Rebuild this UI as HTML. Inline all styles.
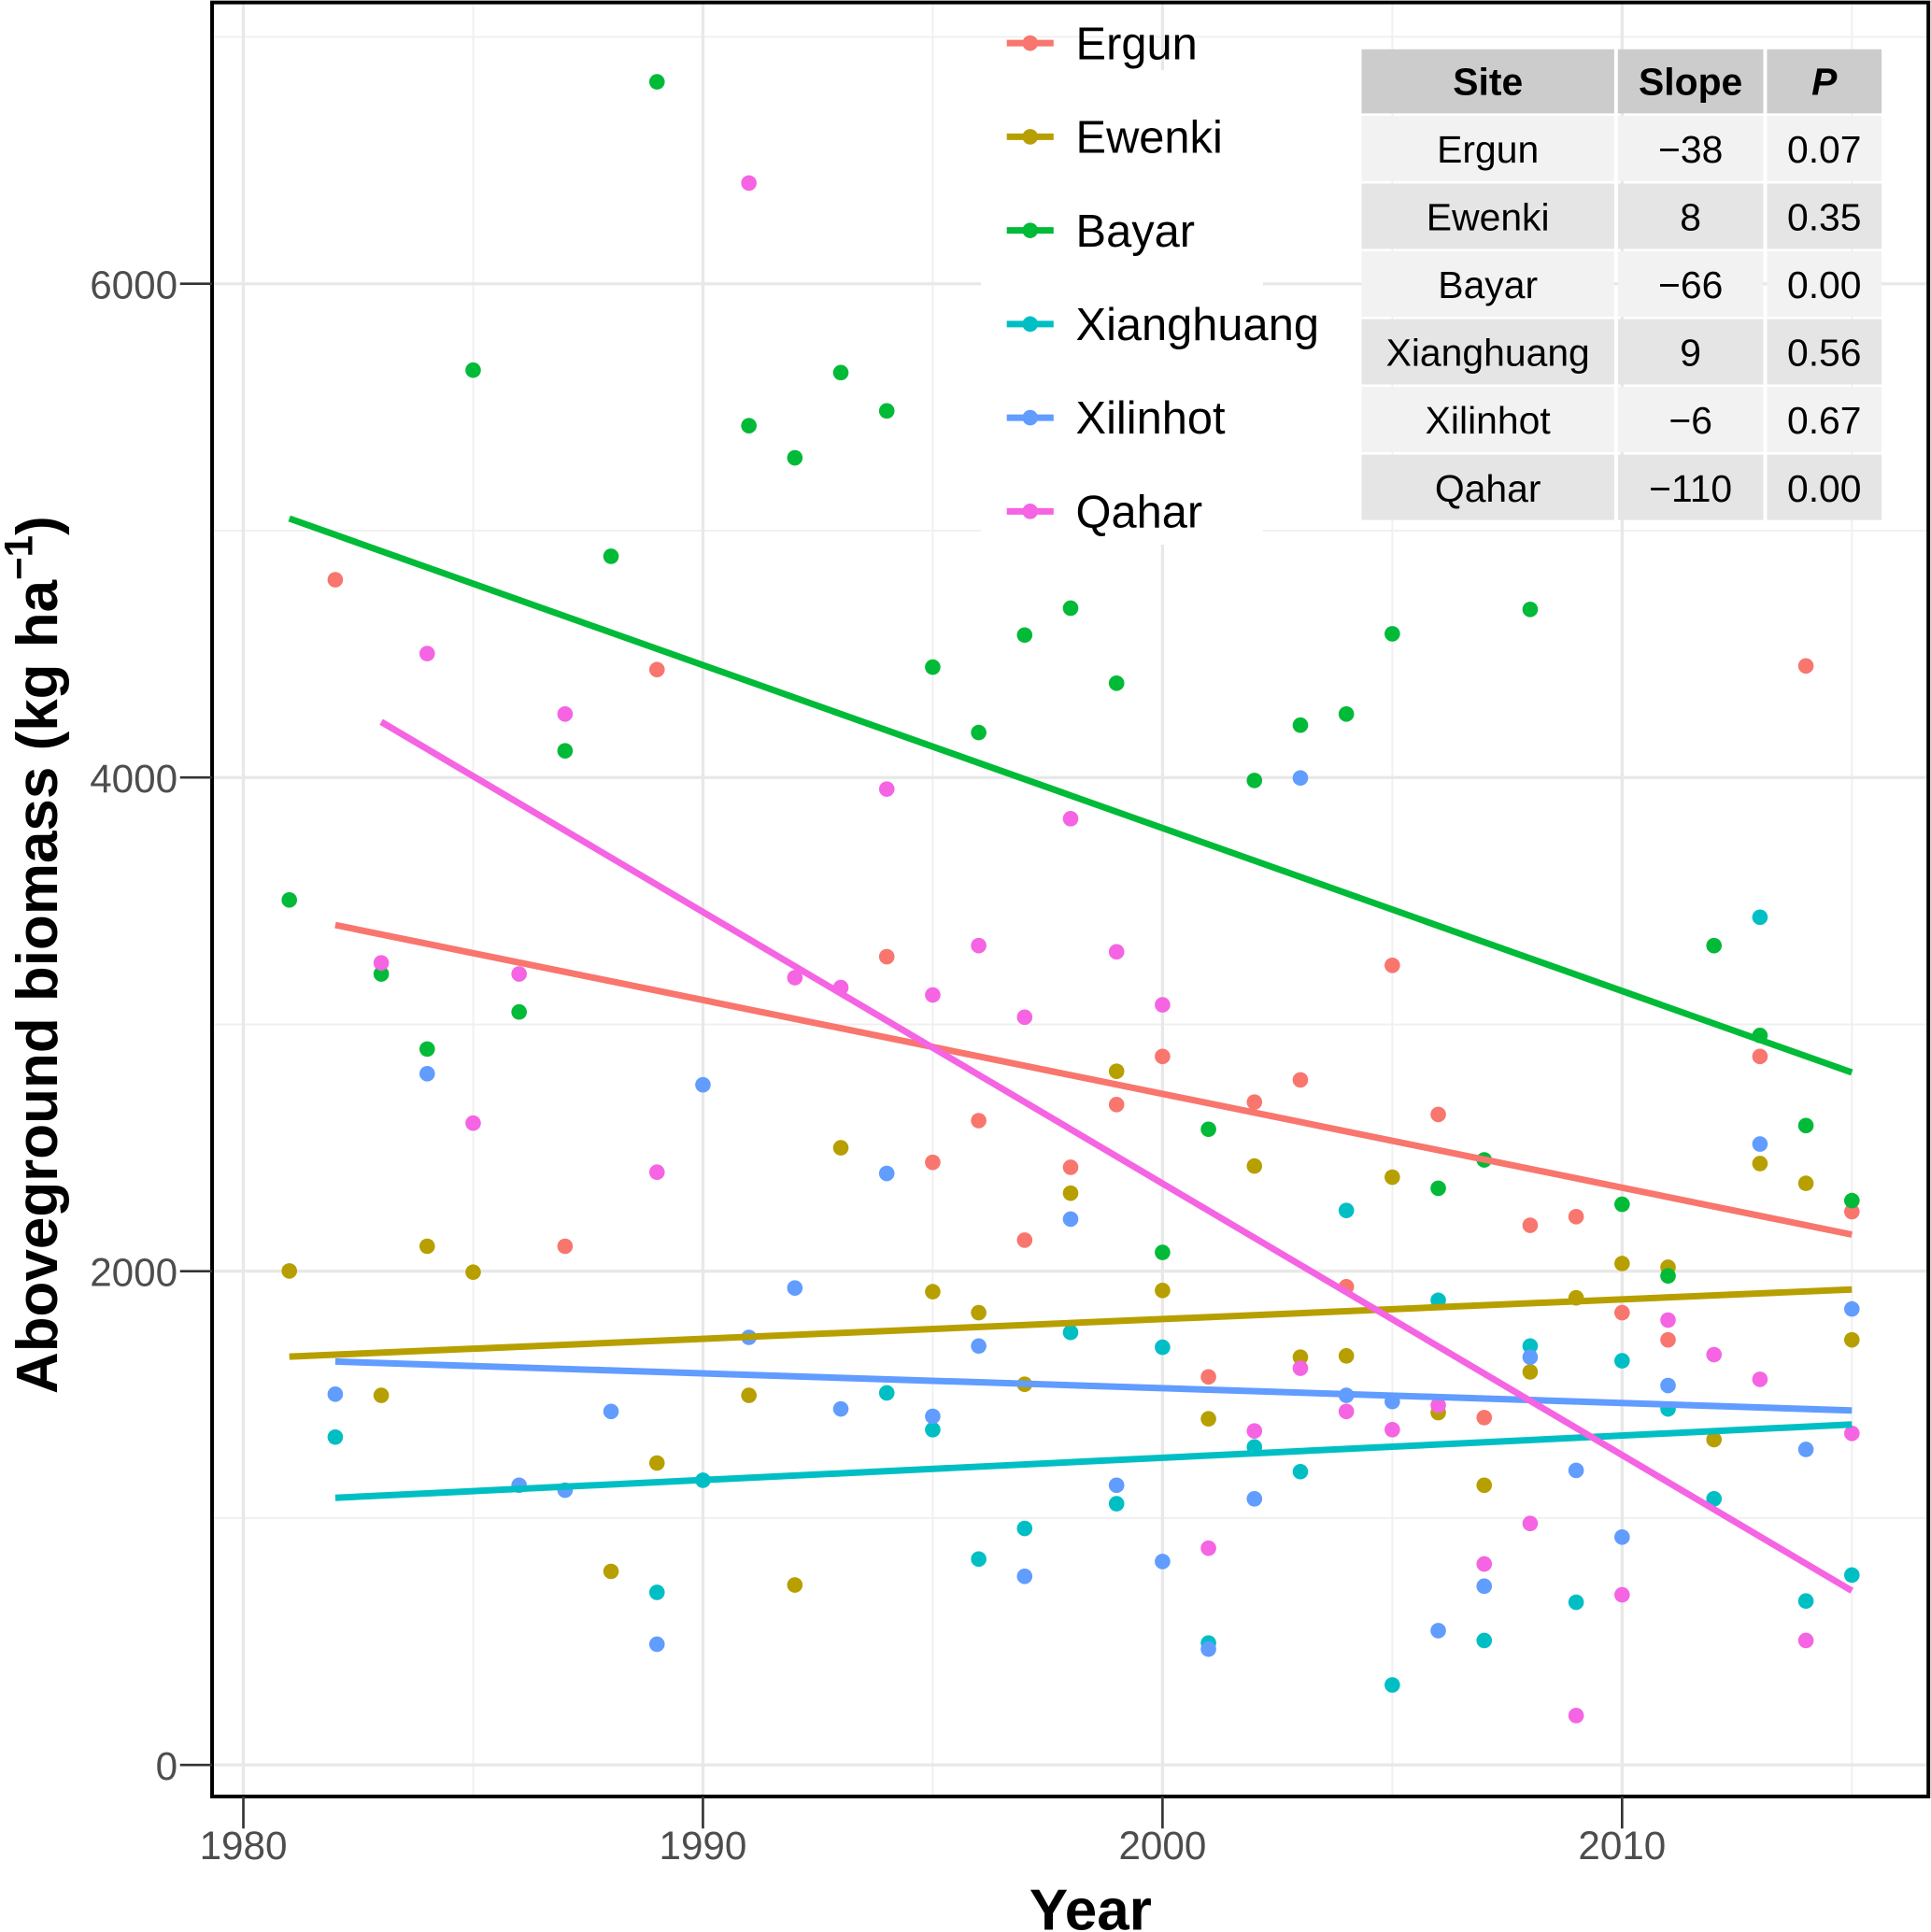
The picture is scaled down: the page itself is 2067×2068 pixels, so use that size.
<!DOCTYPE html>
<html><head><meta charset="utf-8"><style>
html,body{margin:0;padding:0;background:#fff;}
svg{display:block;font-family:"Liberation Sans",Arial,sans-serif;}
</style></head><body>
<svg id="chart" width="2067" height="2068" viewBox="0 0 1567 1568" xmlns="http://www.w3.org/2000/svg">
<rect x="0" y="0" width="1567" height="1568" fill="#fff"/>
<g id="grid"></g>
<g id="points"></g>
<g id="trends"></g>
<g id="legend"></g>
<g id="table"></g>
<g id="axes"></g>
</svg>
<script>
const sites = ["Ergun","Ewenki","Bayar","Xianghuang","Xilinhot","Qahar"];
const colors = ["#F8766D","#B79F00","#00BA38","#00BFC4","#619CFF","#F564E3"];
const slopeValues = [-38,8,-66,9,-6,-110];
const slopes = ["\u221238","8","\u221266","9","\u22126","\u2212110"];
const pvals = ["0.07","0.35","0.00","0.56","0.67","0.00"];
const xTicks = [1980,1990,2000,2010];
const yTicks = [0,2000,4000,6000];

const ergunYears = [1982,1987,1989,1994,1995,1996,1997,1998,1999,2000,2001,2002,2003,2004,2005,2006,2007,2008,2009,2010,2011,2013,2014,2015];
const ergunVals  = [4801,2101,4437,3274,2441,2610,2126,2421,2675,2870,1572,2685,2775,1937,3239,2635,1407,2186,2221,1832,1722,2870,4452,2241];
const ewenkiYears = [1981,1983,1984,1985,1988,1989,1991,1992,1993,1995,1996,1997,1998,1999,2000,2001,2002,2003,2004,2005,2006,2007,2008,2009,2010,2011,2012,2013,2014,2015];
const ewenkiVals  = [2001,1497,2101,1996,784,1223,1497,729,2500,1917,1832,1542,2316,2810,1922,1402,2426,1652,1657,2381,1427,1133,1592,1892,2031,2016,1318,2436,2356,1722];
const bayarYears = [1981,1983,1984,1985,1986,1987,1988,1989,1991,1992,1993,1994,1995,1996,1997,1998,1999,2000,2001,2002,2003,2004,2005,2006,2007,2008,2010,2011,2012,2013,2014,2015];
const bayarVals  = [3504,3204,2900,5650,3050,4108,4896,6818,5425,5295,5640,5485,4447,4182,4577,4686,4382,2076,2575,3988,4212,4257,4582,2336,2451,4681,2271,1981,3319,2955,2590,2286];
const xiangYears = [1982,1989,1990,1994,1995,1996,1997,1998,1999,2000,2001,2002,2003,2004,2005,2006,2007,2008,2009,2010,2011,2012,2013,2014,2015];
const xiangVals  = [1328,699,1153,1507,1358,834,958,1752,1058,1692,494,1288,1188,2246,324,1882,504,1697,659,1637,1442,1078,3434,664,769];
const xilinYears = [1982,1984,1986,1987,1988,1989,1990,1991,1992,1993,1994,1995,1996,1997,1998,1999,2000,2001,2002,2003,2004,2005,2006,2007,2008,2009,2010,2011,2013,2014,2015];
const xilinVals  = [1502,2800,1133,1113,1432,489,2755,1732,1932,1442,2396,1412,1697,764,2211,1133,824,469,1078,3998,1497,1472,544,724,1652,1193,923,1537,2515,1278,1847];
const qaharYears = [1983,1984,1985,1986,1987,1989,1991,1992,1993,1994,1995,1996,1997,1998,1999,2000,2001,2002,2003,2004,2005,2006,2007,2008,2009,2010,2011,2012,2013,2014,2015];
const qaharVals  = [3249,4502,2600,3204,4257,2401,6408,3189,3149,3953,3119,3319,3029,3833,3294,3079,878,1353,1607,1432,1358,1457,814,978,200,689,1802,1662,1562,504,1343];

const seriesYears = [ergunYears,ewenkiYears,bayarYears,xiangYears,xilinYears,qaharYears];
const seriesVals = [ergunVals,ewenkiVals,bayarVals,xiangVals,xilinVals,qaharVals];

const NS="http://www.w3.org/2000/svg";
const L=172,R=1565,T=2,B=1458;
function xs(y){return 197.4+(y-1980)*37.3;}
function ys(v){return 1432.4-v*0.20035;}
function mk(tag,attrs,parent){const e=document.createElementNS(NS,tag);for(const k in attrs)e.setAttribute(k,attrs[k]);parent.appendChild(e);return e;}
const grid=document.getElementById('grid');
[1985,1995,2005,2015].forEach(v=>{const e=mk('line',{x1:xs(v),x2:xs(v),y1:T,y2:B,stroke:'#f0f0f0','stroke-width':1.5},grid);});
[1000,3000,5000,7000].forEach(v=>{const e=mk('line',{x1:L,x2:R,y1:ys(v),y2:ys(v),stroke:'#f0f0f0','stroke-width':1.5},grid);});
xTicks.forEach(v=>{const e=mk('line',{x1:xs(v),x2:xs(v),y1:T,y2:B,stroke:'#e8e8e8','stroke-width':2.5},grid);});
yTicks.forEach(v=>{const e=mk('line',{x1:L,x2:R,y1:ys(v),y2:ys(v),stroke:'#e8e8e8','stroke-width':2.5},grid);});

const pts=document.getElementById('points');
const trends=document.getElementById('trends');
seriesYears.forEach((yrs,i)=>{
  const vals=seriesVals[i];
  yrs.forEach((yr,j)=>{
    const c=mk('circle',{cx:xs(yr),cy:ys(vals[j]),r:6.3,fill:colors[i]},pts);
    
    
  });
  const n=yrs.length;let mx=0,my=0;
  for(let j=0;j<n;j++){mx+=yrs[j];my+=vals[j];}
  mx/=n;my/=n;
  const b=slopeValues[i],a=my-b*mx;
  const x0=Math.min(...yrs),x1=Math.max(...yrs);
  const ln=mk('line',{x1:xs(x0),y1:ys(a+b*x0),x2:xs(x1),y2:ys(a+b*x1),stroke:colors[i],'stroke-width':5.3},trends);
  
  
});

const lg=document.getElementById('legend');
const lbg=mk('rect',{x:796,y:57,width:229,height:385,fill:'#fff'},lg);


sites.forEach((s,i)=>{
  const y=35+i*76;
  const g=mk('g',{},lg);
  
  
  mk('line',{x1:817,x2:855,y1:y,y2:y,stroke:colors[i],'stroke-width':5.3},g);
  mk('circle',{cx:836,cy:y,r:6.3,fill:colors[i]},g);
  const t=mk('text',{x:873,y:y+13,'font-size':37,fill:'#000'},g);t.textContent=s;
});

const tb=document.getElementById('table');
const cols=[[1105,1310],[1313,1431],[1434,1527]];
const hdr=mk('g',{},tb);


["Site","Slope","P"].forEach((h,k)=>{
  mk('rect',{x:cols[k][0],y:40,width:cols[k][1]-cols[k][0],height:52,fill:'#cccccc'},hdr);
  const t=mk('text',{x:(cols[k][0]+cols[k][1])/2,y:77,'font-size':31,'font-weight':'bold','text-anchor':'middle',fill:'#000','font-style':k==2?'italic':'normal'},hdr);t.textContent=h;
});
sites.forEach((s,i)=>{
  const y0=94+i*55;
  const row=mk('g',{},tb);
  
  
  const vals=[s,slopes[i],pvals[i]];
  vals.forEach((v,k)=>{
    mk('rect',{x:cols[k][0],y:y0,width:cols[k][1]-cols[k][0],height:53,fill:i%2==0?'#f2f2f2':'#e5e5e5'},row);
    const t=mk('text',{x:(cols[k][0]+cols[k][1])/2,y:y0+38,'font-size':31,'text-anchor':'middle',fill:'#000'},row);t.textContent=v;
  });
});

const ax=document.getElementById('axes');
const fr=mk('rect',{x:L,y:T,width:R-L,height:B-T,fill:'none',stroke:'#000','stroke-width':3},ax);


xTicks.forEach(v=>{
  mk('line',{x1:xs(v),x2:xs(v),y1:B,y2:B+26,stroke:'#333','stroke-width':2},ax);
  const t=mk('text',{x:xs(v),y:1509,'font-size':32,'text-anchor':'middle',fill:'#4d4d4d'},ax);t.textContent=v;
  
  
});
yTicks.forEach(v=>{
  mk('line',{x1:L-26,x2:L,y1:ys(v),y2:ys(v),stroke:'#333','stroke-width':2},ax);
  const t=mk('text',{x:144,y:ys(v)+12,'font-size':32,'text-anchor':'end',fill:'#4d4d4d'},ax);t.textContent=v;
  
  
});
const xt=mk('text',{x:885,y:1566,'font-size':47,'font-weight':'bold','text-anchor':'middle',fill:'#000'},ax);
xt.textContent='Year';


const yt=mk('text',{x:0,y:0,'font-size':47,'font-weight':'bold','text-anchor':'middle',fill:'#000',transform:'translate(46,775) rotate(-90)'},ax);


yt.innerHTML='Aboveground biomass (kg ha<tspan font-size="32" dy="-20">\u22121</tspan><tspan dy="20">)</tspan>';
</script>
</body></html>
